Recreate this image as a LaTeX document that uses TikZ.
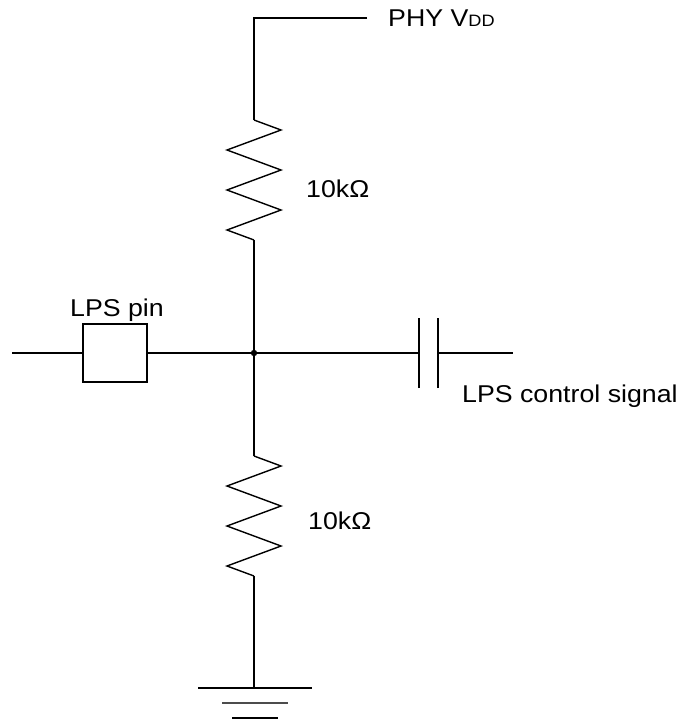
\documentclass[tikz,border=0pt]{standalone}
\usepackage{fontspec}
\setmainfont[FakeStretch=1.1]{Liberation Sans}
\begin{document}
\begin{tikzpicture}[x=1pt,y=-1pt, line join=miter, font=\fontsize{24.3}{28}\selectfont,
	wire/.style={line width=1.4pt},
	plate/.style={line width=2.8pt},
	lbl/.style={anchor=base west, inner sep=0pt}]
	\def\xc{254} \def\zz{27} % trục dọc, biên độ răng cưa
	\useasboundingbox (0,0) rectangle (682,720);
	% các điểm
	\coordinate (vdd) at (367,18);
	\coordinate (corner) at (\xc,18);
	\coordinate (r1t) at (\xc,120);
	\coordinate (r1b) at (\xc,240);
	\coordinate (J) at (\xc,353);
	\coordinate (r2t) at (\xc,456);
	\coordinate (r2b) at (\xc,576);
	\coordinate (gnd) at (\xc,688);
	\coordinate (in) at (12,353);
	\coordinate (c1) at (419,353);
	\coordinate (c2) at (438,353);
	\coordinate (out) at (513,353);
	\node (pin) [draw, wire, minimum width=64pt, minimum height=58pt, inner sep=0pt] at (115,353) {};
	% dây
	\draw[wire] (vdd)--(corner)--(r1t);
	\draw[wire] (r1t) -- ++(\zz,10) \foreach \i in {1,2}{ -- ++(-2*\zz,20) -- ++(2*\zz,20)} -- ++(-2*\zz,20) -- (r1b);
	\draw[wire] (r1b)--(r2t);
	\draw[wire] (r2t) -- ++(\zz,10) \foreach \i in {1,2}{ -- ++(-2*\zz,20) -- ++(2*\zz,20)} -- ++(-2*\zz,20) -- (r2b);
	\draw[wire] (r2b)--(gnd);
	\draw[wire] (in)--(pin.west);
	\draw[wire] (pin.east)--(c1);
	\draw[wire] (c2)--(out);
	\fill (J) circle (3.2);
	% tụ
	\draw[plate] ([yshift=-35]c1)--([yshift=35]c1);
	\draw[plate] ([yshift=-35]c2)--([yshift=35]c2);
	% đất
	\draw[line width=2.6pt] ([xshift=-56]gnd)--([xshift=58]gnd);
	\draw[line width=1.6pt, black!70] ([xshift=-32,yshift=-15]gnd)--([xshift=34,yshift=-15]gnd);
	\draw[line width=2pt] ([xshift=-22,yshift=-30]gnd)--([xshift=24,yshift=-30]gnd);
	% nhãn
	\node (vddlbl) [lbl] at (388,26) {PHY V{\fontsize{16.5}{18}\selectfont DD}};
	\node (r1lbl) [lbl] at (306,197) {10kΩ};
	\node (r2lbl) [lbl] at (308,529) {10kΩ};
	\node (pinlbl) [lbl] at (70,316) {LPS pin};
	\node (ctllbl) [lbl] at (462,402) {LPS control signal};
\end{tikzpicture}
\end{document}
